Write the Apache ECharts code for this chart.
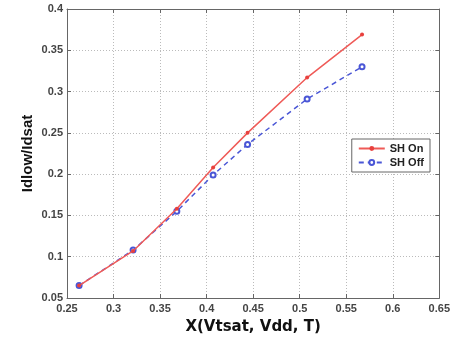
<!DOCTYPE html>
<html>
<head>
<meta charset="utf-8">
<script src="https://cdn.jsdelivr.net/npm/echarts@6/dist/echarts.min.js"></script>
<style>
  html, body { margin: 0; padding: 0; background: #fff; }
  #chart { width: 453px; height: 341px; }
</style>
</head>
<body>
<div id="chart"></div>
<script>
// values
const xValues = [0.263, 0.321, 0.368, 0.407, 0.444, 0.508, 0.567];
const shOn = [0.065, 0.107, 0.158, 0.208, 0.250, 0.317, 0.369];
const shOff = [0.065, 0.108, 0.155, 0.199, 0.236, 0.291, 0.330];
const seriesNames = ["SH On", "SH Off"];

const pairs = (ys) => xValues.map((x, i) => [x, ys[i]]);

const chart = echarts.init(document.getElementById("chart"));

const labelStyle = {
  color: "#444",
  fontSize: 11,
  fontWeight: "bold",
  fontFamily: "Liberation Sans, Arial, sans-serif",
};
const gridLine = { show: true, lineStyle: { color: "#bbb", type: [1, 2], width: 1 } };
const frame = { show: true, lineStyle: { color: "#666", width: 1 } };
const tickIn = { show: true, inside: true, length: 4, lineStyle: { color: "#666" } };

chart.setOption({
  animation: false,
  grid: { left: 67, right: 10, top: 9, bottom: 43 },
  legend: {
    data: seriesNames,
    orient: "vertical",
    right: 23,
    top: 139,
    itemWidth: 26,
    itemHeight: 6,
    itemGap: 3,
    padding: [4, 6, 4, 6],
    backgroundColor: "#fff",
    borderColor: "#666",
    borderWidth: 1,
    textStyle: { color: "#222", fontSize: 11, fontWeight: "bold", fontFamily: "Liberation Sans, Arial, sans-serif" },
  },
  xAxis: [
    {
      type: "value",
      min: 0.25,
      max: 0.65,
      interval: 0.05,
      name: "X(Vtsat, Vdd, T)",
      nameLocation: "middle",
      nameGap: 22,
      nameMoveOverlap: false,
      nameTextStyle: { color: "#111", fontSize: 15, fontWeight: "bold", fontFamily: "DejaVu Sans, sans-serif" },
      axisLine: frame,
      axisTick: tickIn,
      axisLabel: { ...labelStyle, margin: 5 },
      splitLine: gridLine,
    },
    {
      type: "value",
      position: "top",
      min: 0.25,
      max: 0.65,
      interval: 0.05,
      axisLine: frame,
      axisTick: tickIn,
      axisLabel: { show: false },
      splitLine: { show: false },
    },
  ],
  yAxis: [
    {
      type: "value",
      min: 0.05,
      max: 0.4,
      interval: 0.05,
      name: "Idlow/Idsat",
      nameLocation: "middle",
      nameGap: 32,
      nameMoveOverlap: false,
      nameTextStyle: { color: "#111", fontSize: 15, fontWeight: "bold", fontFamily: "Liberation Sans, Arial, sans-serif" },
      axisLine: frame,
      axisTick: tickIn,
      axisLabel: { ...labelStyle, margin: 4 },
      splitLine: gridLine,
    },
    {
      type: "value",
      position: "right",
      min: 0.05,
      max: 0.4,
      interval: 0.05,
      axisLine: frame,
      axisTick: tickIn,
      axisLabel: { show: false },
      splitLine: { show: false },
    },
  ],
  series: [
    {
      name: seriesNames[0],
      type: "line",
      data: pairs(shOn),
      symbol: "circle",
      symbolSize: 4,
      itemStyle: { color: "#e8403d" },
      lineStyle: { color: "#ef5a57", width: 1.5 },
      z: 3,
    },
    {
      name: seriesNames[1],
      type: "line",
      data: pairs(shOff),
      symbol: "emptyCircle",
      symbolSize: 5,
      itemStyle: { color: "#4a56d6", borderWidth: 1 },
      lineStyle: { color: "#4a56d6", width: 1.5, type: [5, 4] },
      z: 2,
    },
  ],
});
</script>
</body>
</html>
